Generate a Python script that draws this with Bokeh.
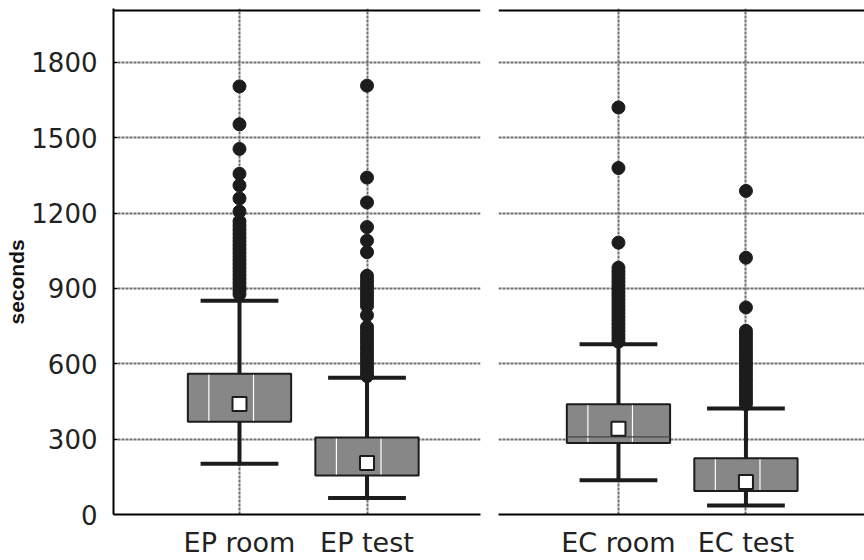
from bokeh.plotting import figure
from bokeh.layouts import row
from bokeh.models import FixedTicker, Span, Range1d, Title
from bokeh.embed import file_html
from bokeh.resources import INLINE

# ---- data (seconds) ----
ep_labels = ["EP room", "EP test"]
ec_labels = ["EC room", "EC test"]

ep_q1 = [369, 155]
ep_q3 = [560, 306]
ep_mean = [440, 205]
ep_whisker_low = [202, 66]
ep_whisker_high = [851, 544]

ec_q1 = [285, 94]
ec_q3 = [439, 224]
ec_mean = [341, 129]
ec_whisker_low = [136, 36]
ec_whisker_high = [678, 422]
ec_room_median = 309

ep_room_outliers = [1704, 1553, 1455, 1356, 1310, 1258, 1206, 1167, 1150, 1134, 1118,
                    1102, 1087, 1072, 1057, 1042, 1027, 1012, 997, 982, 967, 952,
                    937, 922, 907, 892, 877]
ep_test_outliers = [1707, 1341, 1242, 1144, 1090, 1044, 950, 935, 920, 905, 890, 875,
                    860, 845, 830, 793, 746, 732, 718, 704, 690, 676, 662, 648, 634,
                    620, 606, 592, 578, 564, 551]
ec_room_outliers = [1620, 1379, 1082, 982, 968, 954, 940, 926, 912, 898, 884, 870, 856,
                    842, 828, 814, 800, 786, 772, 758, 744, 730, 716, 702, 688]
ec_test_outliers = [1288, 1022, 824, 731, 717, 703, 689, 675, 661, 647, 633, 619, 605,
                    591, 577, 563, 549, 535, 521, 507, 493, 479, 465, 451, 439]

y_ticks = [0, 300, 600, 900, 1200, 1500, 1800]
y_title = "seconds"

FONT = "DejaVu Sans"
DARK = "#1c1c1c"
GRID = "#6e6e6e"
BOX_W = 0.81
CAP_W = 0.61


def panel(labels, q1, q3, mean, lo, hi, outliers, x_start, x_end, width,
          border_left, border_right, show_y, medians=None):
    p = figure(width=width, height=560, output_backend="svg", toolbar_location=None,
               x_range=Range1d(x_start, x_end), y_range=Range1d(0, 2014),
               min_border_left=border_left, min_border_right=border_right,
               min_border_top=8, min_border_bottom=41)
    p.outline_line_color = None
    p.background_fill_color = "white"
    p.border_fill_color = "white"

    xs = [1, 2]

    # axes
    p.xaxis.ticker = FixedTicker(ticks=xs)
    p.xaxis.major_label_overrides = {1: labels[0], 2: labels[1]}
    p.xaxis.major_label_text_font = FONT
    p.xaxis.major_label_text_font_size = "27px"
    p.xaxis.major_label_text_color = "#222222"
    p.xaxis.major_label_standoff = 6
    p.xaxis.major_tick_line_color = None
    p.xaxis.minor_tick_line_color = None
    p.xaxis.axis_line_width = 2
    p.xaxis.axis_line_color = "black"

    p.yaxis.ticker = FixedTicker(ticks=y_ticks)
    if show_y:
        p.yaxis.major_label_text_font = FONT
        p.yaxis.major_label_text_font_size = "26px"
        p.yaxis.major_label_text_color = "#222222"
        p.yaxis.major_label_standoff = 16
        p.yaxis.major_tick_in = 4
        p.yaxis.major_tick_out = 0
        p.yaxis.minor_tick_line_color = None
        p.yaxis.axis_line_width = 2
        p.yaxis.axis_line_color = "black"
        # vertical axis title; trailing no-break spaces push it a little lower
        p.add_layout(Title(text=y_title + "\u00a0" * 7, align="center",
                           text_font="Liberation Sans", text_font_style="bold",
                           text_font_size="21px", text_color="#111111",
                           standoff=2), "left")
    else:
        p.yaxis.visible = False

    for g in (p.xgrid, p.ygrid):
        g.grid_line_color = GRID
        g.grid_line_dash = "3 1"
        g.grid_line_width = 2

    # top border
    p.add_layout(Span(location=2006, dimension="width", line_color="black", line_width=2))

    # whiskers
    p.segment(x0=xs, y0=lo, x1=xs, y1=hi, line_color=DARK, line_width=4)
    p.segment(x0=[x - CAP_W / 2 for x in xs], y0=lo, x1=[x + CAP_W / 2 for x in xs],
              y1=lo, line_color=DARK, line_width=4)
    p.segment(x0=[x - CAP_W / 2 for x in xs], y0=hi, x1=[x + CAP_W / 2 for x in xs],
              y1=hi, line_color=DARK, line_width=4)

    # boxes
    p.quad(left=[x - BOX_W / 2 for x in xs], right=[x + BOX_W / 2 for x in xs],
           bottom=q1, top=q3, fill_color="#878787", line_color=DARK, line_width=2)
    for off in (-0.24, 0.11):
        p.segment(x0=[x + off for x in xs], y0=[b + 4 for b in q1],
                  x1=[x + off for x in xs], y1=[t - 4 for t in q3],
                  line_color="white", line_width=1.2)
    if medians:
        for i, m in medians.items():
            p.segment(x0=[xs[i] - BOX_W / 2], y0=[m], x1=[xs[i] + BOX_W / 2], y1=[m],
                      line_color="#444444", line_width=1.2)

    # outliers
    for x, vals in zip(xs, outliers):
        p.scatter(x=[x] * len(vals), y=vals, size=13, marker="circle",
                  fill_color=DARK, line_color=DARK)

    # means
    p.scatter(x=xs, y=mean, marker="square", size=14, fill_color="white",
              line_color=DARK, line_width=2)
    return p


left = panel(ep_labels, ep_q1, ep_q3, ep_mean, ep_whisker_low, ep_whisker_high,
             [ep_room_outliers, ep_test_outliers], 0.012, 2.890, 488, 113, 8, True)
right = panel(ec_labels, ec_q1, ec_q3, ec_mean, ec_whisker_low, ec_whisker_high,
              [ec_room_outliers, ec_test_outliers], 0.059, 2.930, 376, 10, 0, False,
              medians={0: ec_room_median})

layout = row(left, right, spacing=0)
open("out.html", "w").write(file_html(layout, INLINE))
